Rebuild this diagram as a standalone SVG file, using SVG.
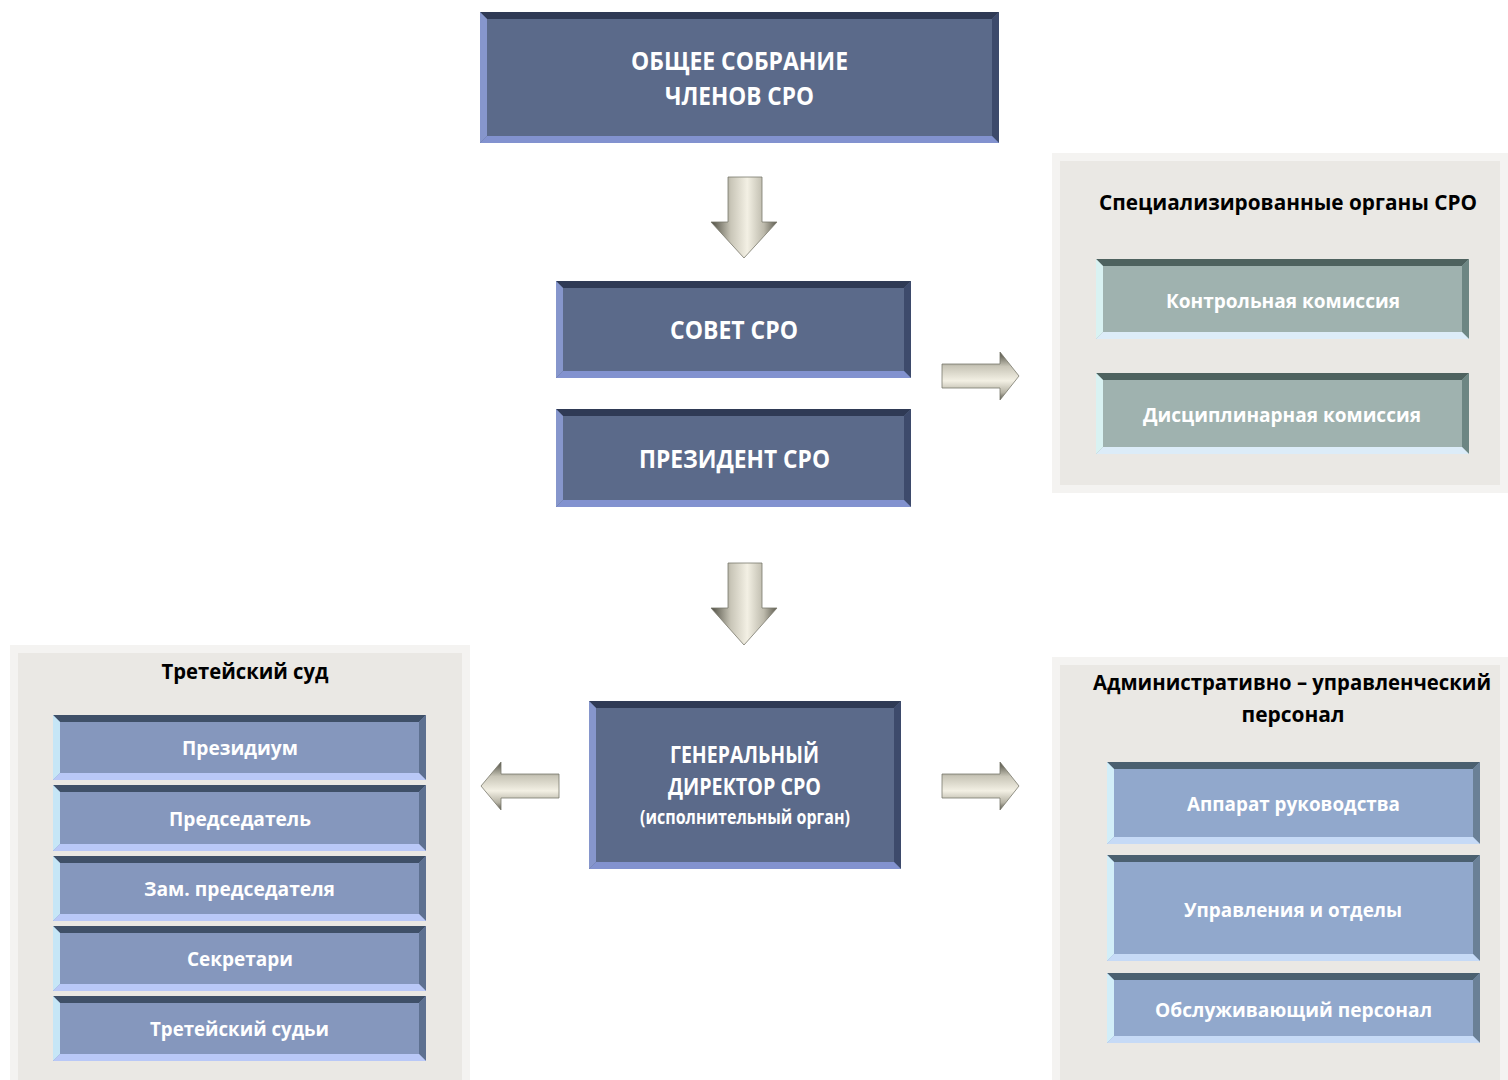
<svg xmlns="http://www.w3.org/2000/svg" width="1508" height="1080" viewBox="0 0 1508 1080">
<defs>
<style>
.t{font-family:"Open Sans","Noto Sans","Liberation Sans",sans-serif;font-weight:bold;fill:#fff;text-anchor:middle}
.h{font-family:"Open Sans","Noto Sans","Liberation Sans",sans-serif;font-weight:bold;fill:#000;text-anchor:middle}
.mf{fill:#5b6a8a}.mt{fill:#2f3a55}.mr{fill:#3d4a6b}.ml{fill:#8696cc}.mb{fill:#8292cf}
.gf{fill:#9fb2af}.gt{fill:#4e625f}.gr{fill:#6d8683}.gl{fill:#d9f2f2}.gb{fill:#dcecf8}
.lf{fill:#8597bd}.lt{fill:#3f5068}.lr{fill:#5d7090}.ll{fill:#c6e6f6}.lb{fill:#b9c8f7}
.rf{fill:#91a8cc}.rt{fill:#4b6070}.rr{fill:#6a8096}.rl{fill:#d2eef8}.rb{fill:#c6daf6}
.pf{fill:#eae8e4}.pe{fill:#f4f3f1}.pd{fill:#dedcd8}
</style>
<linearGradient id="av" x1="0" y1="0" x2="1" y2="0">
<stop offset="0" stop-color="#4e4d42"/><stop offset="0.3" stop-color="#c9c6b8"/><stop offset="0.55" stop-color="#f3f0e4"/><stop offset="0.8" stop-color="#bdbaac"/><stop offset="1" stop-color="#5e5c50"/>
</linearGradient>
<linearGradient id="ah" x1="0" y1="0" x2="0" y2="1">
<stop offset="0" stop-color="#4e4d42"/><stop offset="0.3" stop-color="#c9c6b8"/><stop offset="0.6" stop-color="#f3f0e4"/><stop offset="0.85" stop-color="#b5b2a4"/><stop offset="1" stop-color="#55534a"/>
</linearGradient>
</defs>

<!-- panels -->
<g id="panel-special">
<rect x="1052" y="153" width="456" height="340" class="pe"/>
<rect x="1060" y="161" width="440" height="324" class="pf"/>
<text class="h" x="1288" y="210" font-size="22" textLength="378" lengthAdjust="spacingAndGlyphs">Специализированные органы СРО</text>
</g>
<g id="panel-court">
<rect x="10" y="645" width="460" height="435" class="pe"/>
<rect x="18" y="653" width="444" height="427" class="pf"/>
<text class="h" x="245" y="679" font-size="22" textLength="167" lengthAdjust="spacingAndGlyphs">Третейский суд</text>
</g>
<g id="panel-admin">
<rect x="1052" y="657" width="456" height="423" class="pe"/>
<rect x="1060" y="665" width="440" height="415" class="pf"/>
<text class="h" x="1292" y="690" font-size="20.5" textLength="398" lengthAdjust="spacingAndGlyphs">Административно – управленческий</text>
<text class="h" x="1293" y="722" font-size="22" textLength="103" lengthAdjust="spacingAndGlyphs">персонал</text>
</g>

<!-- main boxes -->
<g id="n-general">
<rect x="480" y="12" width="519" height="131" class="mf"/>
<polygon points="480,12 999,12 992,19 487,19" class="mt"/>
<polygon points="999,12 999,143 992,136 992,19" class="mr"/>
<polygon points="480,12 487,19 487,136 480,143" class="ml"/>
<polygon points="480,143 999,143 992,136 487,136" class="mb"/>
<text class="t" x="739.5" y="70" font-size="25" textLength="217" lengthAdjust="spacingAndGlyphs">ОБЩЕЕ СОБРАНИЕ</text>
<text class="t" x="739.5" y="105" font-size="25" textLength="149" lengthAdjust="spacingAndGlyphs">ЧЛЕНОВ СРО</text>
</g>
<g id="n-sovet">
<rect x="556" y="281" width="355" height="97" class="mf"/>
<polygon points="556,281 911,281 904,288 563,288" class="mt"/>
<polygon points="911,281 911,378 904,371 904,288" class="mr"/>
<polygon points="556,281 563,288 563,371 556,378" class="ml"/>
<polygon points="556,378 911,378 904,371 563,371" class="mb"/>
<text class="t" x="734" y="339" font-size="25" textLength="128" lengthAdjust="spacingAndGlyphs">СОВЕТ СРО</text>
</g>
<g id="n-president">
<rect x="556" y="409" width="355" height="98" class="mf"/>
<polygon points="556,409 911,409 904,416 563,416" class="mt"/>
<polygon points="911,409 911,507 904,500 904,416" class="mr"/>
<polygon points="556,409 563,416 563,500 556,507" class="ml"/>
<polygon points="556,507 911,507 904,500 563,500" class="mb"/>
<text class="t" x="734.5" y="468" font-size="25" textLength="191" lengthAdjust="spacingAndGlyphs">ПРЕЗИДЕНТ СРО</text>
</g>
<g id="n-director">
<rect x="589" y="701" width="312" height="168" class="mf"/>
<polygon points="589,701 901,701 894,708 596,708" class="mt"/>
<polygon points="901,701 901,869 894,862 894,708" class="mr"/>
<polygon points="589,701 596,708 596,862 589,869" class="ml"/>
<polygon points="589,869 901,869 894,862 596,862" class="mb"/>
<text class="t" x="744.5" y="763" font-size="23" textLength="149" lengthAdjust="spacingAndGlyphs">ГЕНЕРАЛЬНЫЙ</text>
<text class="t" x="744.5" y="795" font-size="23" textLength="153" lengthAdjust="spacingAndGlyphs">ДИРЕКТОР СРО</text>
<text class="t" x="745" y="824" font-size="19" textLength="210" lengthAdjust="spacingAndGlyphs">(исполнительный орган)</text>
</g>

<!-- special organs -->
<g id="n-control">
<rect x="1096" y="259" width="373" height="80" class="gf"/>
<polygon points="1096,259 1469,259 1462,266 1103,266" class="gt"/>
<polygon points="1469,259 1469,339 1462,332 1462,266" class="gr"/>
<polygon points="1096,259 1103,266 1103,332 1096,339" class="gl"/>
<polygon points="1096,339 1469,339 1462,332 1103,332" class="gb"/>
<text class="t" x="1283" y="308" font-size="20" textLength="234" lengthAdjust="spacingAndGlyphs">Контрольная комиссия</text>
</g>
<g id="n-discipline">
<rect x="1096" y="373" width="373" height="81" class="gf"/>
<polygon points="1096,373 1469,373 1462,380 1103,380" class="gt"/>
<polygon points="1469,373 1469,454 1462,447 1462,380" class="gr"/>
<polygon points="1096,373 1103,380 1103,447 1096,454" class="gl"/>
<polygon points="1096,454 1469,454 1462,447 1103,447" class="gb"/>
<text class="t" x="1282" y="422" font-size="20" textLength="278" lengthAdjust="spacingAndGlyphs">Дисциплинарная комиссия</text>
</g>

<!-- court boxes -->
<g id="n-presidium">
<rect x="53" y="715" width="373" height="65" class="lf"/>
<polygon points="53,715 426,715 419,722 60,722" class="lt"/>
<polygon points="426,715 426,780 419,773 419,722" class="lr"/>
<polygon points="53,715 60,722 60,773 53,780" class="ll"/>
<polygon points="53,780 426,780 419,773 60,773" class="lb"/>
<text class="t" x="240" y="755" font-size="20" textLength="116" lengthAdjust="spacingAndGlyphs">Президиум</text>
</g>
<g id="n-chairman">
<rect x="53" y="785" width="373" height="66" class="lf"/>
<polygon points="53,785 426,785 419,792 60,792" class="lt"/>
<polygon points="426,785 426,851 419,844 419,792" class="lr"/>
<polygon points="53,785 60,792 60,844 53,851" class="ll"/>
<polygon points="53,851 426,851 419,844 60,844" class="lb"/>
<text class="t" x="240" y="826" font-size="20" textLength="142" lengthAdjust="spacingAndGlyphs">Председатель</text>
</g>
<g id="n-deputy">
<rect x="53" y="856" width="373" height="65" class="lf"/>
<polygon points="53,856 426,856 419,863 60,863" class="lt"/>
<polygon points="426,856 426,921 419,914 419,863" class="lr"/>
<polygon points="53,856 60,863 60,914 53,921" class="ll"/>
<polygon points="53,921 426,921 419,914 60,914" class="lb"/>
<text class="t" x="239.5" y="896" font-size="20" textLength="191" lengthAdjust="spacingAndGlyphs">Зам. председателя</text>
</g>
<g id="n-secretaries">
<rect x="53" y="926" width="373" height="65" class="lf"/>
<polygon points="53,926 426,926 419,933 60,933" class="lt"/>
<polygon points="426,926 426,991 419,984 419,933" class="lr"/>
<polygon points="53,926 60,933 60,984 53,991" class="ll"/>
<polygon points="53,991 426,991 419,984 60,984" class="lb"/>
<text class="t" x="240" y="966" font-size="20" textLength="106" lengthAdjust="spacingAndGlyphs">Секретари</text>
</g>
<g id="n-judges">
<rect x="53" y="996" width="373" height="65" class="lf"/>
<polygon points="53,996 426,996 419,1003 60,1003" class="lt"/>
<polygon points="426,996 426,1061 419,1054 419,1003" class="lr"/>
<polygon points="53,996 60,1003 60,1054 53,1061" class="ll"/>
<polygon points="53,1061 426,1061 419,1054 60,1054" class="lb"/>
<text class="t" x="239.5" y="1036" font-size="20" textLength="179" lengthAdjust="spacingAndGlyphs">Третейский судьи</text>
</g>

<!-- admin boxes -->
<g id="n-apparat">
<rect x="1107" y="762" width="373" height="82" class="rf"/>
<polygon points="1107,762 1480,762 1473,769 1114,769" class="rt"/>
<polygon points="1480,762 1480,844 1473,837 1473,769" class="rr"/>
<polygon points="1107,762 1114,769 1114,837 1107,844" class="rl"/>
<polygon points="1107,844 1480,844 1473,837 1114,837" class="rb"/>
<text class="t" x="1293.5" y="811" font-size="20" textLength="213" lengthAdjust="spacingAndGlyphs">Аппарат руководства</text>
</g>
<g id="n-departments">
<rect x="1107" y="855" width="373" height="106" class="rf"/>
<polygon points="1107,855 1480,855 1473,862 1114,862" class="rt"/>
<polygon points="1480,855 1480,961 1473,954 1473,862" class="rr"/>
<polygon points="1107,855 1114,862 1114,954 1107,961" class="rl"/>
<polygon points="1107,961 1480,961 1473,954 1114,954" class="rb"/>
<text class="t" x="1293" y="917" font-size="20" textLength="218" lengthAdjust="spacingAndGlyphs">Управления и отделы</text>
</g>
<g id="n-service">
<rect x="1107" y="973" width="373" height="70" class="rf"/>
<polygon points="1107,973 1480,973 1473,980 1114,980" class="rt"/>
<polygon points="1480,973 1480,1043 1473,1036 1473,980" class="rr"/>
<polygon points="1107,973 1114,980 1114,1036 1107,1043" class="rl"/>
<polygon points="1107,1043 1480,1043 1473,1036 1114,1036" class="rb"/>
<text class="t" x="1293.5" y="1017" font-size="20" textLength="277" lengthAdjust="spacingAndGlyphs">Обслуживающий персонал</text>
</g>

<!-- connectors -->
<g id="connectors" stroke="#7a786c" stroke-width="0.8" stroke-linejoin="miter">
<path d="M728,177 L762,177 L762,222 L777,222 L744,258 L711,222 L728,222 Z" fill="url(#av)"/>
<path d="M728,563 L762,563 L762,608 L777,608 L744,645 L711,608 L728,608 Z" fill="url(#av)"/>
<path d="M942,364 L1000,364 L1000,352 L1019,376 L1000,400 L1000,388 L942,388 Z" fill="url(#ah)"/>
<path d="M942,774 L1000,774 L1000,762 L1019,786 L1000,810 L1000,798 L942,798 Z" fill="url(#ah)"/>
<path d="M559,774 L501,774 L501,762 L481,786 L501,810 L501,798 L559,798 Z" fill="url(#ah)"/>
</g>
</svg>
